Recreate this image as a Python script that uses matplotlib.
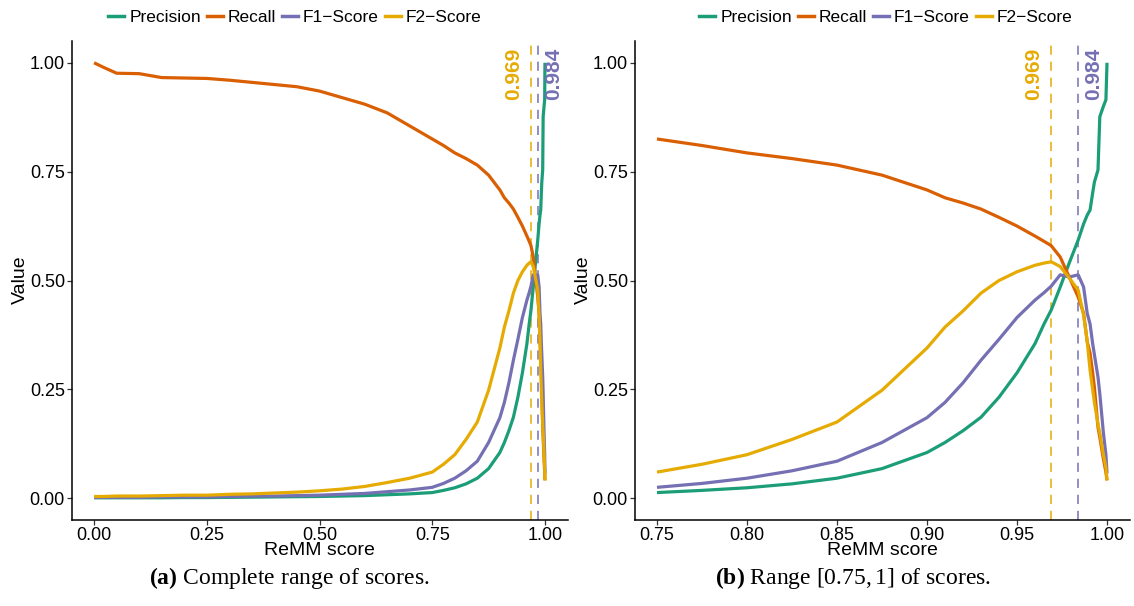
import matplotlib
matplotlib.use("Agg")
import matplotlib.pyplot as plt
from matplotlib.lines import Line2D
import numpy as np

# ---------------- data ----------------
score = [0.00, 0.02, 0.05, 0.10, 0.15, 0.20, 0.25, 0.30, 0.35, 0.40, 0.45, 0.50,
         0.55, 0.60, 0.65, 0.70, 0.75, 0.775, 0.80, 0.825, 0.85, 0.875, 0.90,
         0.91, 0.92, 0.93, 0.94, 0.95, 0.96, 0.965, 0.969, 0.974, 0.979, 0.984,
         0.987, 0.989, 0.9906, 0.992, 0.993, 0.995, 0.996, 0.998, 0.9994, 1.00]

precision = [0.001, 0.001, 0.001, 0.001, 0.001, 0.0015, 0.0015, 0.002, 0.0025, 0.003, 0.0035, 0.004,
             0.005, 0.006, 0.008, 0.010, 0.013, 0.018, 0.024, 0.033, 0.046, 0.068, 0.105,
             0.128, 0.155, 0.186, 0.232, 0.288, 0.355, 0.40, 0.432, 0.485, 0.54, 0.593,
             0.63, 0.65, 0.662, 0.70, 0.726, 0.754, 0.876, 0.90, 0.915, 1.00]

recall = [1.00, 0.99, 0.976, 0.975, 0.966, 0.965, 0.964, 0.960, 0.955, 0.950, 0.945, 0.935,
          0.920, 0.905, 0.885, 0.855, 0.825, 0.81, 0.793, 0.78, 0.765, 0.742, 0.708,
          0.69, 0.678, 0.664, 0.645, 0.625, 0.602, 0.59, 0.58, 0.554, 0.508, 0.462,
          0.425, 0.36, 0.333, 0.29, 0.255, 0.163, 0.14, 0.09, 0.06, 0.041]

f1 = [0.002, 0.002, 0.002, 0.002, 0.003, 0.003, 0.003, 0.004, 0.005, 0.005, 0.006, 0.007,
      0.009, 0.011, 0.015, 0.019, 0.025, 0.034, 0.046, 0.063, 0.085, 0.128, 0.185,
      0.22, 0.265, 0.317, 0.365, 0.415, 0.455, 0.472, 0.487, 0.513, 0.508, 0.513,
      0.485, 0.425, 0.40, 0.356, 0.33, 0.278, 0.24, 0.15, 0.10, 0.057]

f2 = [0.004, 0.004, 0.005, 0.005, 0.006, 0.007, 0.007, 0.009, 0.010, 0.012, 0.014, 0.017,
      0.021, 0.027, 0.036, 0.046, 0.060, 0.078, 0.100, 0.135, 0.175, 0.248, 0.345,
      0.393, 0.43, 0.471, 0.50, 0.52, 0.535, 0.54, 0.543, 0.532, 0.506, 0.478,
      0.42, 0.36, 0.294, 0.25, 0.22, 0.17, 0.15, 0.10, 0.07, 0.041]

series_names = ["Precision", "Recall", "F1\u2212Score", "F2\u2212Score"]
series_colors = ["#1B9E77", "#D95F02", "#7570B3", "#E6AB02"]

thresholds = [0.969, 0.984]
threshold_labels = ["0.969", "0.984"]
threshold_colors = ["#E6AB02", "#7570B3"]

y_ticks = [0.00, 0.25, 0.50, 0.75, 1.00]
x_ticks_left = [0.00, 0.25, 0.50, 0.75, 1.00]
x_ticks_right = [0.75, 0.80, 0.85, 0.90, 0.95, 1.00]

captions = [r"$\mathbf{(a)}$ Complete range of scores.",
            r"$\mathbf{(b)}$ Range $[0.75, 1]$ of scores."]

# ---------------- style ----------------
plt.rcParams['font.family'] = ['Liberation Sans', 'DejaVu Sans']
plt.rcParams['mathtext.fontset'] = 'custom'
plt.rcParams['mathtext.rm'] = 'Liberation Serif'
plt.rcParams['mathtext.it'] = 'Liberation Serif:italic'
plt.rcParams['mathtext.bf'] = 'Liberation Serif:bold'

W, H = 1134, 606
fig = plt.figure(figsize=(W / 100, H / 100), dpi=100)

def fx(px):
    return px / W

def fy(py):
    return 1 - py / H

ax_top, ax_bot = 41, 520
axL = fig.add_axes([fx(71.5), fy(ax_bot), fx(567.5 - 71.5), (ax_bot - ax_top) / H])
axR = fig.add_axes([fx(634.5), fy(ax_bot), fx(1129.5 - 634.5), (ax_bot - ax_top) / H])

score_a = np.array(score)
data = [np.array(precision), np.array(recall), np.array(f1), np.array(f2)]

panels = [
    (axL, 0.0, 1.0, x_ticks_left, np.ones_like(score_a, dtype=bool)),
    (axR, 0.75, 1.0, x_ticks_right, score_a >= 0.75),
]

for ax, x0, x1, xt, mask in panels:
    for vals, col in zip(data, series_colors):
        ax.plot(score_a[mask], vals[mask], color=col, lw=2.3, solid_capstyle='butt',
                solid_joinstyle='round', zorder=3)
    pad = 0.05 * (x1 - x0)
    ax.set_xlim(x0 - pad, x1 + pad)
    ax.set_ylim(-0.05, 1.05)
    ax.set_xticks(xt)
    ax.set_xticklabels([f"{v:.2f}" for v in xt])
    ax.set_yticks(y_ticks)
    ax.set_yticklabels([f"{v:.2f}" for v in y_ticks])
    for s in ['top', 'right']:
        ax.spines[s].set_visible(False)
    for s in ['left', 'bottom']:
        ax.spines[s].set_linewidth(1.1)
        ax.spines[s].set_color('black')
    ax.tick_params(axis='both', direction='out', length=3.5, width=0.9, color='#333333',
                   labelsize=13, labelcolor='black', pad=1.2)
    for thr, lab, col in zip(thresholds, threshold_labels, threshold_colors):
        ax.axvline(thr, color=col, lw=1.1, ls=(0, (6, 4.5)), zorder=2)
    # threshold labels
    ax.annotate(threshold_labels[0], xy=(thresholds[0], 1.034), xycoords='data',
                xytext=(-5.5, 0), textcoords='offset points', rotation=90,
                ha='right', va='top', color=threshold_colors[0], fontsize=15,
                fontweight='bold')
    ax.annotate(threshold_labels[1], xy=(thresholds[1], 1.034), xycoords='data',
                xytext=(4.5, 0), textcoords='offset points', rotation=90,
                ha='left', va='top', color=threshold_colors[1], fontsize=15,
                fontweight='bold')

# axis titles
for cx in [319.5, 882]:
    fig.text(fx(cx), fy(542), "ReMM score", ha='center', va='top', fontsize=14)
for cx in [20, 583]:
    fig.text(fx(cx), fy(280), "Value", ha='center', va='center', rotation=90, fontsize=14)

# legends
handles = [Line2D([], [], color=c, lw=2.5) for c in series_colors]
for cx in [295, 886]:
    fig.legend(handles, series_names, loc='center', bbox_to_anchor=(fx(cx), fy(17)),
               ncol=4, frameon=False, fontsize=12.5, handlelength=0.9,
               handletextpad=0.3, columnspacing=0.35, borderaxespad=0, borderpad=0)

# captions
for cx, cap in zip([289, 853], captions):
    fig.text(fx(cx), fy(578), cap, ha='center', va='center', fontsize=17,
             family='Liberation Serif')

fig.savefig("out.png", dpi=100)
